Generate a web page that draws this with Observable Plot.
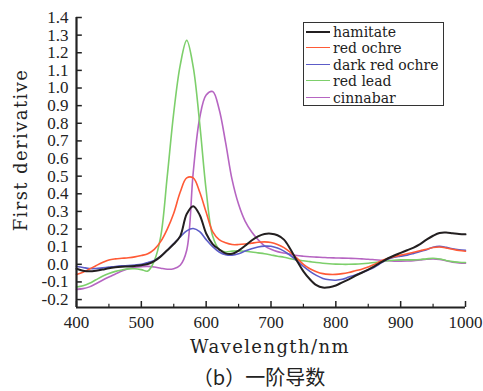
<!DOCTYPE html>
<html>
<head>
<meta charset="utf-8">
<script src="https://cdn.jsdelivr.net/npm/d3@7"></script>
<script src="https://cdn.jsdelivr.net/npm/@observablehq/plot@0.6"></script>
<style>
  html, body { margin: 0; padding: 0; background: #fff; }
  #wrap { position: relative; width: 483px; height: 391px; overflow: hidden; }
  .lbl { position: absolute; white-space: nowrap; line-height: 1; color: #222; }
  #xlabel { left: 270px; top: 347px; transform: translate(-50%, -50%);
            font-family: "DejaVu Serif"; font-size: 18px; letter-spacing: 1.4px; }
  #ylabel { left: 20.5px; top: 150px; transform: translate(-50%, -50%) rotate(-90deg);
            font-family: "DejaVu Serif"; font-size: 18px; letter-spacing: 1.4px; }
  #caption { left: 259px; top: 377px; transform: translate(-50%, -50%);
             font-family: "Noto Sans CJK SC"; font-size: 20px; line-height: 1.2; }
  #legend { position: absolute; left: 303px; top: 22px; width: 141px; height: 84px;
            border: 1.5px solid #333; box-sizing: border-box; background: #fff;
            font-family: "DejaVu Serif"; font-size: 14px; color: #222; }
  .row { position: absolute; left: 0; height: 16px; width: 100%; }
  .swatch { position: absolute; left: 2px; width: 24px; }
  .lab { position: absolute; left: 29px; top: 0; line-height: 16px; white-space: nowrap; }
</style>
</head>
<body>
<div id="wrap"></div>
<script>
const wavelength = [400,410,420,430,440,450,460,470,480,490,500,510,520,530,540,550,560,570,580,590,600,610,620,630,640,650,660,670,680,690,700,710,720,730,740,750,760,770,780,790,800,810,820,830,840,850,860,870,880,890,900,910,920,930,940,950,960,970,980,990,1000];

const hamitate = [-0.025,-0.036,-0.039,-0.036,-0.030,-0.022,-0.017,-0.014,-0.012,-0.009,-0.005,0.002,0.018,0.045,0.080,0.115,0.160,0.285,0.330,0.280,0.175,0.115,0.085,0.062,0.060,0.078,0.105,0.135,0.158,0.172,0.174,0.165,0.140,0.085,0.020,-0.040,-0.085,-0.118,-0.132,-0.130,-0.120,-0.102,-0.085,-0.065,-0.048,-0.030,-0.010,0.012,0.033,0.050,0.065,0.080,0.095,0.115,0.140,0.162,0.178,0.180,0.176,0.172,0.170];

const redOchre = [-0.058,-0.045,-0.027,-0.008,0.010,0.025,0.031,0.034,0.037,0.042,0.050,0.060,0.085,0.130,0.200,0.290,0.410,0.490,0.490,0.410,0.295,0.185,0.140,0.122,0.112,0.112,0.115,0.120,0.125,0.127,0.124,0.113,0.095,0.068,0.035,0.000,-0.025,-0.042,-0.053,-0.057,-0.057,-0.053,-0.046,-0.037,-0.028,-0.015,0.000,0.020,0.033,0.043,0.052,0.060,0.068,0.077,0.085,0.095,0.098,0.093,0.085,0.078,0.074];

const darkRedOchre = [-0.012,-0.018,-0.024,-0.024,-0.020,-0.016,-0.012,-0.009,-0.007,-0.004,0.000,0.010,0.022,0.045,0.080,0.117,0.155,0.190,0.203,0.185,0.140,0.100,0.070,0.055,0.052,0.060,0.075,0.088,0.098,0.103,0.102,0.092,0.075,0.050,0.020,-0.012,-0.040,-0.063,-0.080,-0.088,-0.090,-0.085,-0.072,-0.060,-0.047,-0.032,-0.015,0.008,0.028,0.040,0.046,0.052,0.062,0.073,0.083,0.097,0.102,0.096,0.088,0.083,0.080];

const redLead = [-0.129,-0.122,-0.108,-0.088,-0.068,-0.052,-0.040,-0.032,-0.026,-0.025,-0.030,-0.038,0.020,0.160,0.500,0.860,1.130,1.270,1.120,0.800,0.420,0.160,0.085,0.070,0.075,0.076,0.074,0.070,0.065,0.060,0.053,0.046,0.040,0.032,0.025,0.020,0.015,0.010,0.006,0.003,0.001,0.000,0.000,0.001,0.003,0.006,0.010,0.015,0.020,0.023,0.025,0.025,0.025,0.027,0.031,0.034,0.030,0.022,0.015,0.012,0.010];

const cinnabar = [-0.142,-0.138,-0.128,-0.110,-0.090,-0.072,-0.055,-0.038,-0.025,-0.017,-0.013,-0.012,-0.015,-0.022,-0.028,-0.025,-0.005,0.080,0.520,0.830,0.960,0.980,0.880,0.690,0.480,0.340,0.245,0.185,0.140,0.105,0.085,0.072,0.064,0.057,0.050,0.046,0.043,0.041,0.039,0.037,0.036,0.035,0.034,0.033,0.031,0.029,0.026,0.023,0.020,0.018,0.018,0.019,0.021,0.025,0.029,0.031,0.028,0.020,0.012,0.008,0.006];

const seriesNames = ["hamitate", "red ochre", "dark red ochre", "red lead", "cinnabar"];
const seriesValues = [hamitate, redOchre, darkRedOchre, redLead, cinnabar];
const seriesColors = ["#231f20", "#ff5a36", "#5c5cc8", "#7dcf6b", "#b665c2"];
const seriesWidths = [2, 1.6, 1.6, 1.6, 1.6];

const xMajorTicks = [400, 500, 600, 700, 800, 900, 1000];
const xMinorTicks = [450, 550, 650, 750, 850, 950];
const yTicks = [-0.2, -0.1, 0.0, 0.1, 0.2, 0.3, 0.4, 0.5, 0.6, 0.7, 0.8, 0.9, 1.0, 1.1, 1.2, 1.3, 1.4];

const xLabel = "Wavelength/nm";
const yLabel = "First derivative";
const caption = "（b）一阶导数";

const xDomain = [400, 1000];
const yDomain = [-0.245, 1.4];

const rows = seriesNames.flatMap((name, i) =>
  wavelength.map((w, j) => ({series: name, order: i, wavelength: w, value: seriesValues[i][j]})));

const lineMarks = seriesNames.map((name, i) => i).reverse().map(i =>
  Plot.line(rows.filter(r => r.order === i), {
    x: "wavelength", y: "value", stroke: seriesColors[i], strokeWidth: seriesWidths[i], curve: "catmull-rom"
  }));

const plot = Plot.plot({
  width: 483,
  height: 391,
  marginLeft: 76,
  marginRight: 18,
  marginTop: 17,
  marginBottom: 84,
  style: {fontFamily: "Liberation Serif", fontSize: "17px", color: "#222", background: "transparent"},
  x: {domain: xDomain, ticks: xMajorTicks, tickSize: 0, tickPadding: 8, tickFormat: d => String(d), label: null},
  y: {domain: yDomain, ticks: yTicks, tickSize: 0, tickPadding: 8, tickFormat: d => d.toFixed(1), label: null},
  marks: [
    ...lineMarks,
    Plot.ruleX(xMajorTicks, {y1: yDomain[0], y2: yDomain[0] + 0.034, stroke: "#222", strokeWidth: 1.5}),
    Plot.ruleX(xMinorTicks, {y1: yDomain[0], y2: yDomain[0] + 0.018, stroke: "#222", strokeWidth: 1.2}),
    Plot.ruleY(yTicks, {x1: xDomain[0], x2: xDomain[0] + 9, stroke: "#222", strokeWidth: 1.5}),
    Plot.ruleX([xDomain[0]], {y1: yDomain[0], y2: yTicks[yTicks.length - 1], stroke: "#222", strokeWidth: 2.2}),
    Plot.ruleY([yDomain[0]], {stroke: "#222", strokeWidth: 2.2})
  ]
});

const wrap = document.getElementById("wrap");
wrap.appendChild(plot);

function addLabel(id, text) {
  const el = document.createElement("div");
  el.id = id;
  el.className = "lbl";
  el.textContent = text;
  wrap.appendChild(el);
}
addLabel("xlabel", xLabel);
addLabel("ylabel", yLabel);
addLabel("caption", caption);

const legend = document.createElement("div");
legend.id = "legend";
seriesNames.forEach((name, i) => {
  const row = document.createElement("div");
  row.className = "row";
  row.style.top = (0.5 + i * 16.5) + "px";
  const sw = document.createElement("div");
  sw.className = "swatch";
  sw.style.top = (8 - seriesWidths[i] / 2) + "px";
  sw.style.borderTop = `${seriesWidths[i]}px solid ${seriesColors[i]}`;
  const lab = document.createElement("div");
  lab.className = "lab";
  lab.textContent = name;
  row.appendChild(sw);
  row.appendChild(lab);
  legend.appendChild(row);
});
wrap.appendChild(legend);
</script>
</body>
</html>
